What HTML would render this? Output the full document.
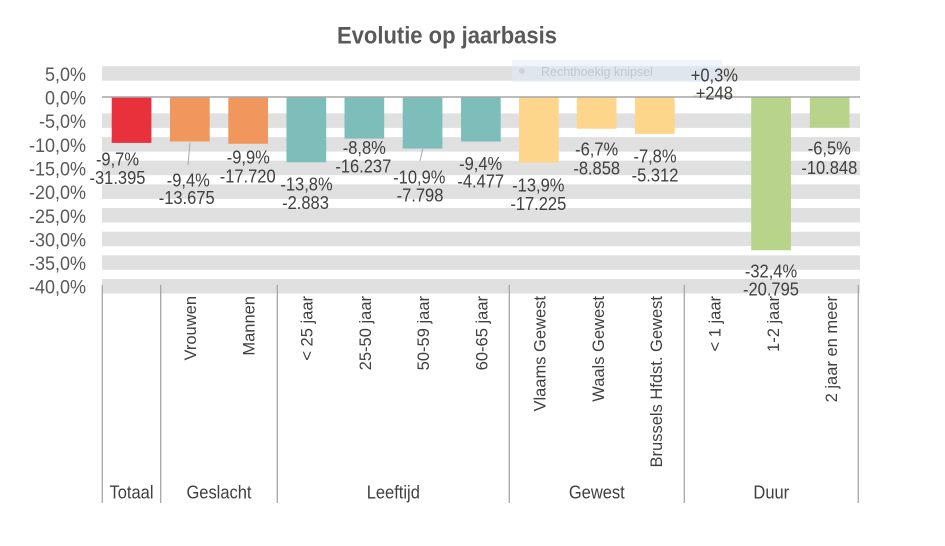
<!DOCTYPE html>
<html><head><meta charset="utf-8"><style>
html,body{margin:0;padding:0;background:#fff;}
svg{display:block;}
text{font-family:"Liberation Sans",Arial,sans-serif;}
.st text{transform-box:fill-box;transform-origin:center;transform:scaleY(1.1);}
</style></head><body>
<svg width="945" height="546" viewBox="0 0 945 546" xmlns="http://www.w3.org/2000/svg">
<rect width="945" height="546" fill="#fff"/>
<!-- title -->
<g class="st">
<text x="447" y="43" font-size="22" font-weight="bold" fill="#595959" text-anchor="middle">Evolutie op jaarbasis</text>
</g>

<!-- bands -->
<g fill="#E0E0E0">
<rect x="102" y="66.2" width="758" height="14.5"/>
<rect x="102" y="113.4" width="758" height="14.5"/>
<rect x="102" y="137.1" width="758" height="14.5"/>
<rect x="102" y="160.7" width="758" height="14.5"/>
<rect x="102" y="184.4" width="758" height="14.5"/>
<rect x="102" y="208.0" width="758" height="14.5"/>
<rect x="102" y="231.7" width="758" height="14.5"/>
<rect x="102" y="255.3" width="758" height="14.5"/>
<rect x="102" y="279.0" width="758" height="14.5"/>
</g>

<!-- knipsel overlay -->
<rect x="512" y="60" width="210" height="22" fill="rgba(222,236,250,0.5)"/>
<circle cx="522" cy="71" r="3" fill="#cfd3d8"/>
<text x="541" y="76" font-size="12.5" fill="#c4c8cc">Rechthoekig knipsel</text>

<!-- tick labels -->
<g class="st" font-size="18" fill="#595959" text-anchor="end">
<text x="86" y="80.5">5,0%</text>
<text x="86" y="104">0,0%</text>
<text x="86" y="127.7">-5,0%</text>
<text x="86" y="151.3">-10,0%</text>
<text x="86" y="175">-15,0%</text>
<text x="86" y="198.6">-20,0%</text>
<text x="86" y="222.3">-25,0%</text>
<text x="86" y="245.9">-30,0%</text>
<text x="86" y="269.6">-35,0%</text>
<text x="86" y="293.2">-40,0%</text>
</g>

<!-- bars -->
<rect x="111.7" y="97" width="39.7" height="45.9" fill="#E8313A"/>
<rect x="170.0" y="97" width="39.7" height="44.5" fill="#F0975D"/>
<rect x="228.3" y="97" width="39.7" height="46.8" fill="#F0975D"/>
<rect x="286.5" y="97" width="39.7" height="65.3" fill="#7DBDBA"/>
<rect x="344.5" y="97" width="39.7" height="41.6" fill="#7DBDBA"/>
<rect x="402.7" y="97" width="39.7" height="51.6" fill="#7DBDBA"/>
<rect x="461.0" y="97" width="39.7" height="44.5" fill="#7DBDBA"/>
<rect x="519.0" y="97" width="39.7" height="65.7" fill="#FDD68C"/>
<rect x="576.8" y="97" width="39.7" height="31.7" fill="#FDD68C"/>
<rect x="635.0" y="97" width="39.7" height="36.9" fill="#FDD68C"/>
<rect x="693.3" y="95.6" width="39.7" height="1.4" fill="#B8D38A"/>
<rect x="751.2" y="97" width="39.7" height="153.3" fill="#B8D38A"/>
<rect x="809.8" y="97" width="39.7" height="30.7" fill="#B8D38A"/>

<!-- zero axis -->
<line x1="102" y1="97" x2="860" y2="97" stroke="#A6A6A6" stroke-width="1.5"/>

<!-- leader lines -->
<line x1="190" y1="142.5" x2="188" y2="165" stroke="#A6A6A6" stroke-width="1"/>
<line x1="422.7" y1="149" x2="420" y2="161" stroke="#A6A6A6" stroke-width="1"/>

<!-- data labels -->
<g class="st" font-size="16.5" fill="#404040" text-anchor="middle">
<text x="117.5" y="165">-9,7%</text><text x="117.5" y="183.3">-31.395</text>
<text x="188.3" y="186">-9,4%</text><text x="186.7" y="203.4">-13.675</text>
<text x="248.3" y="162.7">-9,9%</text><text x="247.7" y="181.7">-17.720</text>
<text x="306.5" y="190">-13,8%</text><text x="305.5" y="208.4">-2.883</text>
<text x="364.3" y="153.4">-8,8%</text><text x="363.3" y="171.7">-16.237</text>
<text x="419.3" y="182.7">-10,9%</text><text x="420" y="200.7">-7.798</text>
<text x="480.7" y="169.4">-9,4%</text><text x="480.7" y="186.7">-4.477</text>
<text x="538.3" y="190.7">-13,9%</text><text x="538.3" y="209.4">-17.225</text>
<text x="596.7" y="155">-6,7%</text><text x="596.7" y="174">-8.858</text>
<text x="655" y="161.7">-7,8%</text><text x="655" y="180.7">-5.312</text>
<text x="714.3" y="80.7">+0,3%</text><text x="714.3" y="99">+248</text>
<text x="771" y="276.7">-32,4%</text><text x="771" y="295">-20.795</text>
<text x="829.3" y="154">-6,5%</text><text x="829.3" y="173.4">-10.848</text>
</g>

<!-- category axis lines -->
<g stroke="#A6A6A6" stroke-width="1.3">
<line x1="102.3" y1="285" x2="102.3" y2="503"/>
<line x1="160.7" y1="285" x2="160.7" y2="503"/>
<line x1="277.3" y1="285" x2="277.3" y2="503"/>
<line x1="509.3" y1="285" x2="509.3" y2="503"/>
<line x1="684.3" y1="285" x2="684.3" y2="503"/>
<line x1="858.3" y1="285" x2="858.3" y2="503"/>
</g>

<!-- rotated category labels -->
<g font-size="16.5" fill="#404040" text-anchor="end">
<text transform="translate(196,296) rotate(-90)">Vrouwen</text>
<text transform="translate(254.3,296) rotate(-90)">Mannen</text>
<text transform="translate(312.6,296) rotate(-90)">&lt; 25 jaar</text>
<text transform="translate(370.8,296) rotate(-90)">25-50 jaar</text>
<text transform="translate(429.1,296) rotate(-90)">50-59 jaar</text>
<text transform="translate(487.4,296) rotate(-90)">60-65 jaar</text>
<text transform="translate(545.7,296) rotate(-90)">Vlaams Gewest</text>
<text transform="translate(604,296) rotate(-90)">Waals Gewest</text>
<text transform="translate(662.2,296) rotate(-90)">Brussels Hfdst.  Gewest</text>
<text transform="translate(720.5,296) rotate(-90)">&lt; 1 jaar</text>
<text transform="translate(778.8,296) rotate(-90)">1-2 jaar</text>
<text transform="translate(837.1,296) rotate(-90)">2 jaar en meer</text>
</g>

<!-- group labels -->
<g class="st" font-size="16.5" fill="#404040" text-anchor="middle">
<text x="131.5" y="498">Totaal</text>
<text x="219" y="498">Geslacht</text>
<text x="393.3" y="498">Leeftijd</text>
<text x="596.8" y="498">Gewest</text>
<text x="771.3" y="498">Duur</text>
</g>
</svg>
</body></html>
